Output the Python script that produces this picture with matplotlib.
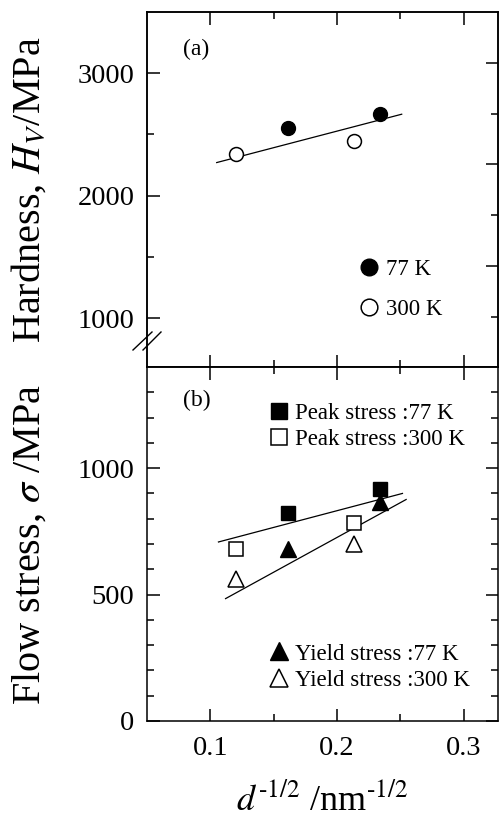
import matplotlib
matplotlib.use("Agg")
import matplotlib.pyplot as plt
from matplotlib.lines import Line2D

plt.rcParams['font.family'] = ['Liberation Serif', 'DejaVu Serif']
plt.rcParams['mathtext.fontset'] = 'stix'

# ---- data: panel (a) hardness ----
hv77_x = [0.161, 0.234]
hv77_y = [2549, 2664]
hv300_x = [0.120, 0.213]
hv300_y = [2344, 2443]
fit_a_x = [0.105, 0.251]
fit_a_y = [2270, 2665]

# ---- data: panel (b) flow stress ----
peak77_x = [0.161, 0.234]
peak77_y = [824, 916]
peak300_x = [0.120, 0.213]
peak300_y = [680, 784]
yield77_x = [0.161, 0.234]
yield77_y = [680, 868]
yield300_x = [0.120, 0.213]
yield300_y = [560, 700]
fit_peak_x = [0.1064, 0.2516]
fit_peak_y = [708, 900]
fit_yield_x = [0.112, 0.2545]
fit_yield_y = [484, 876]

xticks = [0.1, 0.2, 0.3]
xtick_labels = ['0.1', '0.2', '0.3']
yticks_a = [1000, 2000, 3000]
yticks_b = [0, 500, 1000]
right_a_major = [1423, 2257, 3082]
right_a_minor = [1010, 1840, 2670]

W, H = 500, 819
fig = plt.figure(figsize=(W / 100, H / 100), dpi=100)
axa = fig.add_axes([147 / W, 1 - 367 / H, 351 / W, 355 / H])
axb = fig.add_axes([147 / W, 1 - 721 / H, 351 / W, 354 / H])

tick_fs = 20.5
lab_fs = 29
leg_fs = 16.5
ms_c = 10

for ax in (axa, axb):
    ax.set_xlim(0.05, 0.327)
    ax.set_xticks(xticks)
    ax.set_xticks([0.15, 0.25], minor=True)
    for s in ax.spines.values():
        s.set_linewidth(1.1)
    ax.tick_params(which='both', direction='in', top=True, bottom=True,
                   left=True, width=1.1)
    ax.tick_params(which='major', length=9)
    ax.tick_params(which='minor', length=5)
    ax.tick_params(axis='y', labelsize=tick_fs, pad=9)
    ax.tick_params(axis='x', labelsize=tick_fs, pad=11)

# Panel (a)
axa.set_ylim(600, 3500)
axa.set_yticks(yticks_a)
axa.set_yticks([1500, 2500], minor=True)
axa.set_yticklabels([str(v) for v in yticks_a])
axa.tick_params(axis='x', labelbottom=False)
axa.plot(fit_a_x, fit_a_y, color='black', lw=0.9)
axa.plot(hv77_x, hv77_y, 'o', color='black', ms=ms_c, label='77 K')
axa.plot(hv300_x, hv300_y, 'o', mfc='white', mec='black', mew=1.1, ms=ms_c,
         label='300 K')
axa.text(0.103, 0.895, '(a)', transform=axa.transAxes, fontsize=17,
         va='center', ha='left')
axa.legend(loc='upper left', bbox_to_anchor=(0.601, 0.305), frameon=False,
           fontsize=leg_fs, handlelength=1.0, handletextpad=0.24,
           labelspacing=0.85, borderpad=0, borderaxespad=0, markerscale=1.2)
axa.set_ylabel(r'Hardness, $H_V$/MPa', fontsize=lab_fs)
axa.yaxis.set_label_coords(-0.28, 0.5)

tw = axa.twinx()
tw.set_ylim(axa.get_ylim())
tw.set_yticks(right_a_major)
tw.set_yticks(right_a_minor, minor=True)
tw.tick_params(which='both', direction='in', labelright=False, width=1.1)
tw.tick_params(which='major', length=9)
tw.tick_params(which='minor', length=5)
for s in tw.spines.values():
    s.set_linewidth(1.1)

# Panel (b)
axb.set_ylim(0, 1400)
axb.set_yticks(yticks_b)
axb.set_yticklabels([str(v) for v in yticks_b])
axb.set_yticks([v for v in range(100, 1400, 100) if v % 500 != 0], minor=True)
axb.tick_params(which='both', right=True)
axb.set_xticklabels(xtick_labels)
axb.plot(fit_peak_x, fit_peak_y, color='black', lw=0.9)
axb.plot(fit_yield_x, fit_yield_y, color='black', lw=0.9)
h1, = axb.plot(peak77_x, peak77_y, 's', color='black', ms=10.5,
               label='Peak stress :77 K')
h2, = axb.plot(peak300_x, peak300_y, 's', mfc='white', mec='black', mew=1.1,
               ms=10.5, label='Peak stress :300 K')
h3, = axb.plot(yield77_x, yield77_y, '^', color='black', ms=11.5,
               label='Yield stress :77 K')
h4, = axb.plot(yield300_x, yield300_y, '^', mfc='white', mec='black', mew=1.1,
               ms=11.5, label='Yield stress :300 K')
axb.text(0.103, 0.905, '(b)', transform=axb.transAxes, fontsize=17,
         va='center', ha='left')
leg1 = axb.legend(handles=[h1, h2], loc='upper left',
                  bbox_to_anchor=(0.342, 0.898), frameon=False, fontsize=leg_fs,
                  handlelength=1.0, handletextpad=0.24, labelspacing=0.22,
                  borderpad=0, borderaxespad=0, markerscale=1.1)
axb.add_artist(leg1)
axb.legend(handles=[h3, h4], loc='upper left', bbox_to_anchor=(0.342, 0.219),
           frameon=False, fontsize=leg_fs, handlelength=1.0,
           handletextpad=0.24, labelspacing=0.22, borderpad=0,
           borderaxespad=0, markerscale=1.1)
axb.set_ylabel(r'Flow stress, $\sigma$ /MPa', fontsize=lab_fs)
axb.yaxis.set_label_coords(-0.28, 0.5)
axb.set_xlabel(r'$d^{\text{-1/2}}$ /nm$^{\text{-1/2}}$', fontsize=26,
               labelpad=16)

# axis break marks
for x0, x1 in [(133, 152), (143, 161)]:
    fig.add_artist(Line2D([x0 / W, x1 / W], [1 - 350 / H, 1 - 332 / H],
                          transform=fig.transFigure, color='black', lw=1.0))

fig.savefig('out.png', dpi=100)
